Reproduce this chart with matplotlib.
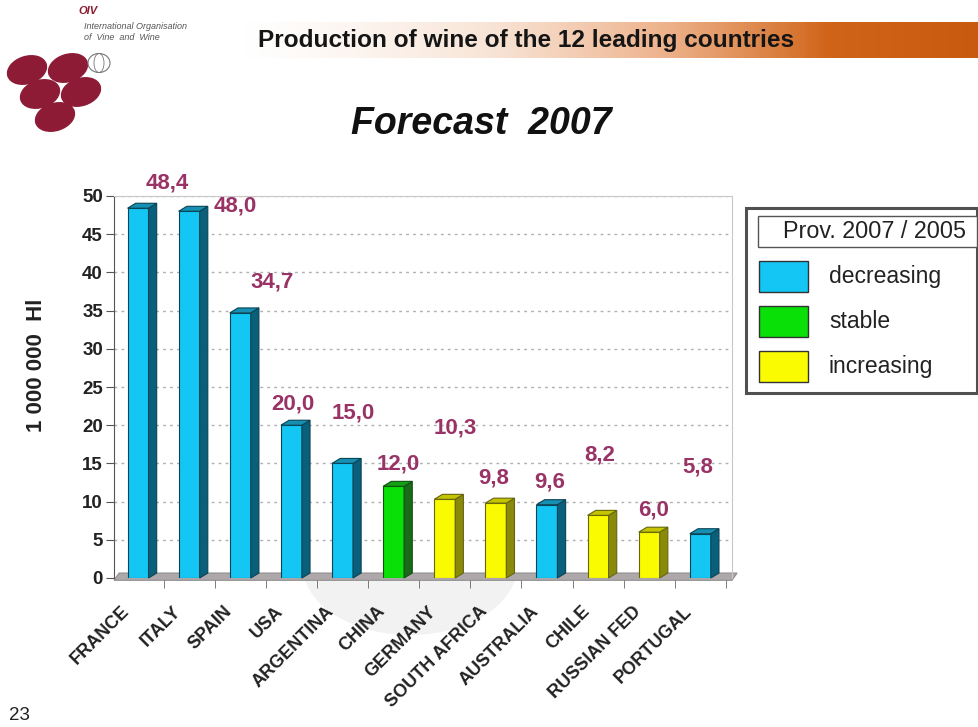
import matplotlib
matplotlib.use("Agg")
import matplotlib.pyplot as plt
from matplotlib.patches import Polygon, Rectangle, Ellipse
import numpy as np

plt.rcParams['font.family'] = ['Liberation Sans', 'DejaVu Sans']

#### Data ####
countries = ['FRANCE', 'ITALY', 'SPAIN', 'USA', 'ARGENTINA', 'CHINA', 'GERMANY',
             'SOUTH AFRICA', 'AUSTRALIA', 'CHILE', 'RUSSIAN FED', 'PORTUGAL']
production = [48.4, 48.0, 34.7, 20.0, 15.0, 12.0, 10.3, 9.8, 9.6, 8.2, 6.0, 5.8]
trend = ['decreasing', 'decreasing', 'decreasing', 'decreasing', 'decreasing', 'stable',
         'increasing', 'increasing', 'decreasing', 'increasing', 'increasing', 'decreasing']
value_labels = ['48,4', '48,0', '34,7', '20,0', '15,0', '12,0', '10,3', '9,8', '9,6', '8,2', '6,0', '5,8']
# where the value labels sit (on the slide they are scattered around)
label_dx = [0.57, 0.90, 0.62, 0.03, 0.21, 0.09, 0.20, -0.05, 0.06, 0.04, 0.08, -0.04]
label_y = [51.7, 48.7, 38.7, 22.8, 21.6, 14.9, 19.6, 13.1, 12.6, 16.1, 8.9, 14.5]

front = {'decreasing': '#14C6F4', 'stable': '#08E008', 'increasing': '#FAFA00'}
side = {'decreasing': '#0A5F7A', 'stable': '#1A6A1A', 'increasing': '#8A8A0A'}
top = {'decreasing': '#168FB2', 'stable': '#14A014', 'increasing': '#C4C400'}
edge = {'decreasing': '#0A4456', 'stable': '#125012', 'increasing': '#666610'}

W, H = 979, 727
fig = plt.figure(figsize=(W / 100, H / 100), dpi=100)
fig.patch.set_facecolor('white')

#### Header (pixel coordinates) ####
hdr = fig.add_axes([0, 0, 1, 1], zorder=-1)
hdr.set_xlim(0, W)
hdr.set_ylim(H, 0)
hdr.axis('off')
grad = np.linspace(0, 1, 300)
cmap = matplotlib.colors.LinearSegmentedColormap.from_list(
    'band', ['#FFFFFF', '#F8E4D6', '#EDB088', '#D06418', '#C85A10'])
hdr.imshow(grad[None, :] ** 1.3, aspect='auto', cmap=cmap, extent=(235, W, 58, 22), zorder=0)
hdr.text(258, 40, 'Production of wine of the 12 leading countries', fontsize=17.6, fontweight='bold',
         va='center', ha='left', color='#151515')
hdr.text(78, 11, 'OIV', fontsize=8, fontweight='bold', style='italic', color='#8B1A2E', va='center')
hdr.text(84, 32, 'International Organisation\nof  Vine  and  Wine', fontsize=6.5, style='italic',
         color='#555555', va='center', linespacing=1.15)
for cx, cy in [(27, 70), (68, 68), (40, 94), (81, 92), (55, 117)]:
    hdr.add_patch(Ellipse((cx, cy), 40, 27, angle=-18, color='#8E1B35', zorder=2))
hdr.add_patch(Ellipse((99, 63), 22, 19, fill=False, ec='#777777', lw=0.8, zorder=3))
hdr.add_patch(Ellipse((99, 63), 10, 19, fill=False, ec='#777777', lw=0.6, zorder=3))
# faint watermark showing under the axis
hdr.add_patch(Ellipse((410, 565), 215, 140, color='#F2F2F2', lw=0, zorder=1))
hdr.text(481, 124, 'Forecast  2007', fontsize=27, fontweight='bold', style='italic', ha='center',
         va='center', color='#111111')
hdr.text(9, 715, '23', fontsize=13.5, va='center', color='#222222')

#### Chart ####
ax = fig.add_axes([114 / W, 1 - 578 / H, 618 / W, 382 / H])
x = np.arange(len(countries))
bw = 0.41
dx, dy = 0.16, 0.65

ax.set_xlim(-0.47, 11.62)
ax.set_ylim(0, 50)

# floor of the 3D chart
ax.add_patch(Polygon([(-0.47, -0.3), (11.62, -0.3), (11.62 + 0.1, dy), (-0.47 + 0.1, dy)],
                     closed=True, fc='#AFA8AA', ec='#8E8E8E', lw=0.8, clip_on=False, zorder=1))

for xi, v, t in zip(x, production, trend):
    x0 = xi - bw / 2
    x1 = xi + bw / 2
    ax.bar(xi, v, width=bw, color=front[t], edgecolor=edge[t], linewidth=0.8, zorder=3)
    ax.add_patch(Polygon([(x1, 0), (x1 + dx, dy), (x1 + dx, v + dy), (x1, v)],
                         closed=True, fc=side[t], ec=edge[t], lw=0.8, zorder=3, clip_on=False))
    ax.add_patch(Polygon([(x0, v), (x1, v), (x1 + dx, v + dy), (x0 + dx, v + dy)],
                         closed=True, fc=top[t], ec=edge[t], lw=0.8, zorder=3, clip_on=False))

for xi, lab, ddx, ly in zip(x, value_labels, label_dx, label_y):
    ax.text(xi + ddx, ly, lab, fontsize=16, fontweight='bold', color='#993366', ha='center',
            va='center', clip_on=False, zorder=5)

ax.set_yticks(np.arange(0, 51, 5))
ax.yaxis.grid(True, linestyle=(0, (2, 3)), color='#B0B0B0', linewidth=1)
ax.set_axisbelow(True)
ax.tick_params(axis='y', labelsize=13.5, length=6, color='#555555', width=0.8, pad=2)
for lab in ax.get_yticklabels():
    lab.set_fontweight('bold')
    lab.set_color('#222222')

ax.set_xticks(x - 0.33)
ax.set_xticklabels(countries, rotation=45, ha='right', rotation_mode='anchor', fontsize=13,
                   fontweight='bold', color='#222222')
ax.tick_params(axis='x', length=0, pad=18)
ax.set_xticks(x + 0.5, minor=True)
ax.tick_params(axis='x', which='minor', length=7, color='#666666', direction='out')

for s in ['top', 'right']:
    ax.spines[s].set_color('#C8C8C8')
ax.spines['left'].set_color('#555555')
ax.spines['bottom'].set_visible(False)

ax.set_ylabel('1 000 000  Hl', fontsize=16, fontweight='bold', color='#222222')
ax.yaxis.set_label_coords(-0.108, 0.556)

#### Legend box ####
hdr.add_patch(Rectangle((746, 208), 231, 185, fc='white', ec='#505050', lw=2.2, zorder=3))
hdr.add_patch(Rectangle((758, 216), 219, 31, fc='white', ec='#555555', lw=1, zorder=4))
hdr.text(875, 232, 'Prov. 2007 / 2005', fontsize=16.8, ha='center', va='center', zorder=5, color='#222222')
legend_items = ['decreasing', 'stable', 'increasing']
for i, t in enumerate(legend_items):
    yy = 277 + i * 45
    hdr.add_patch(Rectangle((759, yy - 16), 49, 31, fc=front[t], ec='#333333', lw=1, zorder=4))
    hdr.text(829, yy, t, fontsize=16.5, va='center', ha='left', zorder=5, color='#222222')

fig.savefig('out.png', dpi=100)
